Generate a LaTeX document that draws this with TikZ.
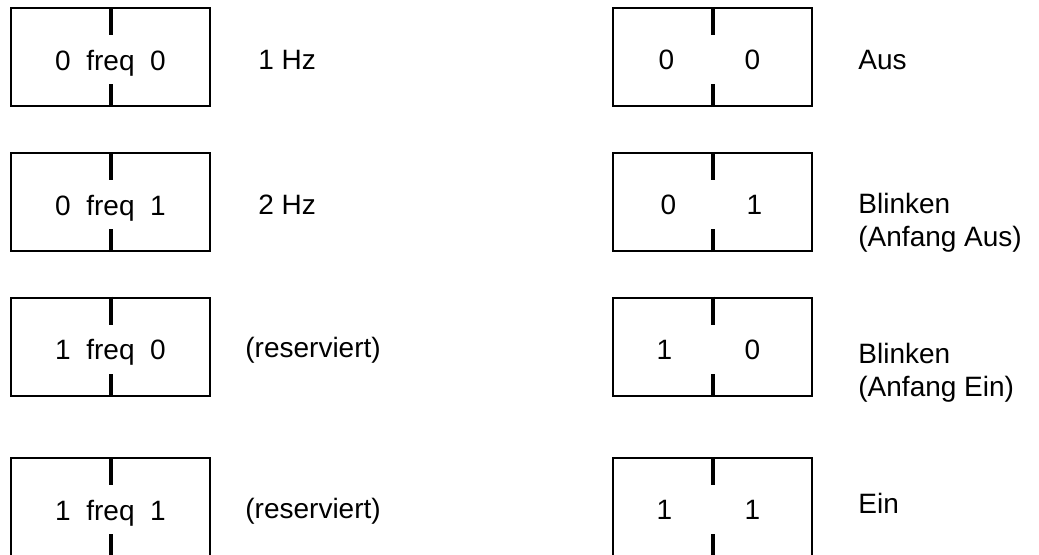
\documentclass[tikz,border=0pt]{standalone}
\usepackage{fontspec}
\setmainfont{Liberation Sans}
\usetikzlibrary{positioning}

\begin{document}
\begin{tikzpicture}[x=0.5pt,y=-0.5pt,
    regbox/.style={shape=rectangle,draw=black,line width=1pt,minimum width=99.5pt,minimum height=49pt,inner sep=0pt,text height=13pt,text depth=0pt,font=\fontsize{14}{16.5}\selectfont},
    bitmark/.style={line width=2pt},
    bit/.style={font=\fontsize{14}{16.5}\selectfont},
    note/.style={anchor=west,align=left,inner sep=0pt,font=\fontsize{14}{16.5}\selectfont}]
  \useasboundingbox (0,0) rectangle (1039,554);
  % frequency bits
  \node[regbox] (f1) at (110.5,57)  {0~~freq~~0\hspace{4pt}};
  \node[regbox] (f2) at (110.5,202) {0~~freq~~1\hspace{4pt}};
  \node[regbox] (f3) at (110.5,346.5) {1~~freq~~0\hspace{4pt}};
  \node[regbox] (f4) at (110.5,507) {1~~freq~~1\hspace{4pt}};
  \node[note] (fl1) at (258,60)  {1 Hz};
  \node[note] (fl2) at (258,205) {2 Hz};
  \node[note] (fl3) at (245,350) {(reserviert)};
  \node[note] (fl4) at (245,511) {(reserviert)};
  % mode bits
  \node[regbox] (m1) at (712.5,57)  {};
  \node[regbox] (m2) at (712.5,202) {};
  \node[regbox] (m3) at (712.5,346.5) {};
  \node[regbox] (m4) at (712.5,507) {};
  \node[bit] (m1a) at ([xshift=-23pt,yshift=-1.5pt]m1.center) {0};
  \node[bit] (m1b) at ([xshift=20pt,yshift=-1.5pt]m1.center)  {0};
  \node[bit] (m2a) at ([xshift=-22pt,yshift=-1.5pt]m2.center) {0};
  \node[bit] (m2b) at ([xshift=21pt,yshift=-1.5pt]m2.center)  {1};
  \node[bit] (m3a) at ([xshift=-24pt,yshift=-1.5pt]m3.center) {1};
  \node[bit] (m3b) at ([xshift=20pt,yshift=-1.5pt]m3.center)  {0};
  \node[bit] (m4a) at ([xshift=-24pt,yshift=-1.5pt]m4.center) {1};
  \node[bit] (m4b) at ([xshift=20pt,yshift=-1.5pt]m4.center)  {1};
  \node[note] (ml1) at (858,60)    {Aus};
  \node[note] (ml2) at (858,222.5) {Blinken\\(Anfang Aus)};
  \node[note] (ml3) at (858,372.5) {Blinken\\(Anfang Ein)};
  \node[note] (ml4) at (858,503)   {Ein};
  % split marks
  \foreach \b in {f1,f2,f3,f4,m1,m2,m3,m4} {
    \draw[bitmark] (\b.north) -- ++(0,28);
    \draw[bitmark] (\b.south) -- ++(0,-23);
  }
\end{tikzpicture}
\end{document}
